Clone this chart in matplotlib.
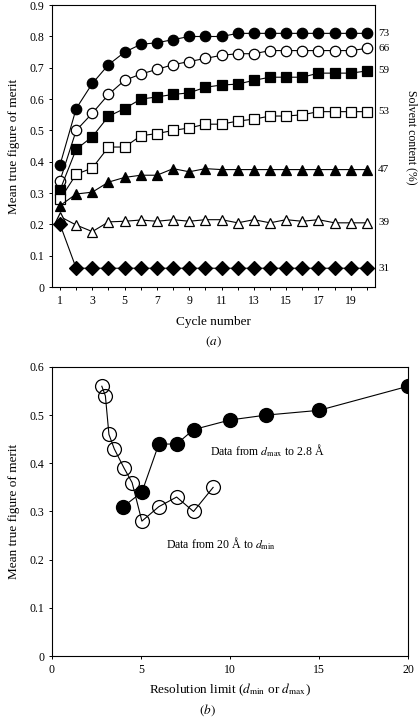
import matplotlib
matplotlib.use('Agg')
import matplotlib.pyplot as plt
import numpy as np
from matplotlib import rcParams

rcParams['font.family'] = ['Liberation Serif', 'DejaVu Serif']
rcParams['mathtext.fontset'] = 'stix'

## data, panel (a): mean true figure of merit per cycle
cycles = np.arange(1, 21)
fom_73 = [0.39, 0.57, 0.65, 0.71, 0.75, 0.775, 0.78, 0.79, 0.80, 0.80,
          0.80, 0.81, 0.81, 0.81, 0.81, 0.81, 0.81, 0.81, 0.81, 0.81]
fom_66 = [0.34, 0.50, 0.555, 0.615, 0.66, 0.68, 0.695, 0.71, 0.72, 0.73,
          0.74, 0.745, 0.745, 0.755, 0.755, 0.755, 0.755, 0.755, 0.755, 0.762]
fom_59 = [0.31, 0.44, 0.48, 0.545, 0.57, 0.60, 0.607, 0.615, 0.62, 0.638,
          0.645, 0.648, 0.66, 0.67, 0.67, 0.67, 0.683, 0.683, 0.683, 0.69]
fom_53 = [0.28, 0.36, 0.38, 0.447, 0.447, 0.483, 0.49, 0.50, 0.508, 0.52,
          0.52, 0.53, 0.536, 0.546, 0.546, 0.55, 0.56, 0.56, 0.56, 0.56]
fom_47 = [0.26, 0.297, 0.303, 0.335, 0.35, 0.357, 0.357, 0.378, 0.368, 0.378,
          0.375, 0.375, 0.375, 0.375, 0.375, 0.375, 0.375, 0.375, 0.375, 0.375]
fom_39 = [0.225, 0.198, 0.177, 0.208, 0.21, 0.214, 0.21, 0.215, 0.21, 0.215,
          0.215, 0.205, 0.215, 0.205, 0.215, 0.21, 0.215, 0.205, 0.205, 0.205]
fom_31 = [0.20] + [0.06] * 19

series_a = [(fom_73, 'o', 'k', '73'), (fom_66, 'o', 'w', '66'),
            (fom_59, 's', 'k', '59'), (fom_53, 's', 'w', '53'),
            (fom_47, '^', 'k', '47'), (fom_39, '^', 'w', '39'),
            (fom_31, 'D', 'k', '31')]

## data, panel (b): resolution limit
dmin = [2.8, 3.0, 3.2, 3.5, 4.05, 4.5, 5.05, 6.0, 7.0, 7.95, 9.05]
fom_dmin = [0.56, 0.54, 0.46, 0.43, 0.39, 0.36, 0.28, 0.31, 0.33, 0.30, 0.35]
dmax = [4.0, 5.05, 6.0, 7.0, 7.95, 10.0, 12.0, 15.0, 20.0]
fom_dmax = [0.31, 0.34, 0.44, 0.44, 0.47, 0.49, 0.50, 0.51, 0.56]

fig = plt.figure(figsize=(4.19, 7.19), dpi=100)

# panel (a)
ax1 = fig.add_axes([0.124, 0.6008, 0.771, 0.392])
for vals, mk, fc, lab in series_a:
    ms = 7.0 if mk == 'D' else 7.5
    ax1.plot(cycles, vals, color='k', lw=0.8, marker=mk, ms=ms,
             mfc=fc, mec='k', mew=0.9)
    ax1.text(1.01, vals[-1], lab, transform=ax1.get_yaxis_transform(),
             va='center', ha='left', fontsize=8)
ax1.set_xlim(0.5, 20.5)
ax1.set_ylim(0, 0.9)
ax1.set_xticks(cycles)
ax1.set_xticklabels([str(c) if c % 2 == 1 else '' for c in cycles])
ax1.set_yticks(np.arange(0, 0.91, 0.1))
ax1.set_yticklabels(['0'] + ['%.1f' % v for v in np.arange(0.1, 0.91, 0.1)])
ax1.set_xlabel('Cycle number', fontsize=9.5, labelpad=7)
ax1.set_ylabel('Mean true figure of merit', fontsize=9.5, labelpad=7)
ax1.text(1.115, 0.53, 'Solvent content (%)', transform=ax1.transAxes,
         rotation=270, va='center', ha='center', fontsize=8.5)
fig.text(213 / 419, 1 - 342 / 719, '$(a)$', ha='center', va='center', fontsize=9.5)

# panel (b)
ax2 = fig.add_axes([0.124, 0.0876, 0.850, 0.402])
ax2.plot(dmin, fom_dmin, color='k', lw=0.8, marker='o', ms=10,
         mfc='none', mec='k', mew=0.9)
ax2.plot(dmax, fom_dmax, color='k', lw=0.8, marker='o', ms=10,
         mfc='k', mec='k')
ax2.text(8.9, 0.427, r'Data from $d_{\rm max}$ to 2.8 Å', fontsize=8.5,
         va='center', ha='left')
ax2.text(6.4, 0.234, r'Data from 20 Å to $d_{\rm min}$', fontsize=8.5,
         va='center', ha='left')
ax2.set_xlim(0, 20)
ax2.set_ylim(0, 0.6)
ax2.set_xticks([0, 5, 10, 15, 20])
ax2.set_yticks(np.arange(0, 0.61, 0.1))
ax2.set_yticklabels(['0'] + ['%.1f' % v for v in np.arange(0.1, 0.61, 0.1)])
ax2.set_xlabel(r'Resolution limit ($d_{\rm min}$ or $d_{\rm max}$)', fontsize=9.5, labelpad=4)
ax2.set_ylabel('Mean true figure of merit', fontsize=9.5, labelpad=7)
fig.text(207 / 419, 1 - 710 / 719, '$(b)$', ha='center', va='center', fontsize=9.5)

for ax in (ax1, ax2):
    ax.tick_params(direction='out', length=2.5, width=0.7, labelsize=8.5, pad=3)
    for s in ax.spines.values():
        s.set_linewidth(0.8)

plt.savefig('out.png', dpi=100)
